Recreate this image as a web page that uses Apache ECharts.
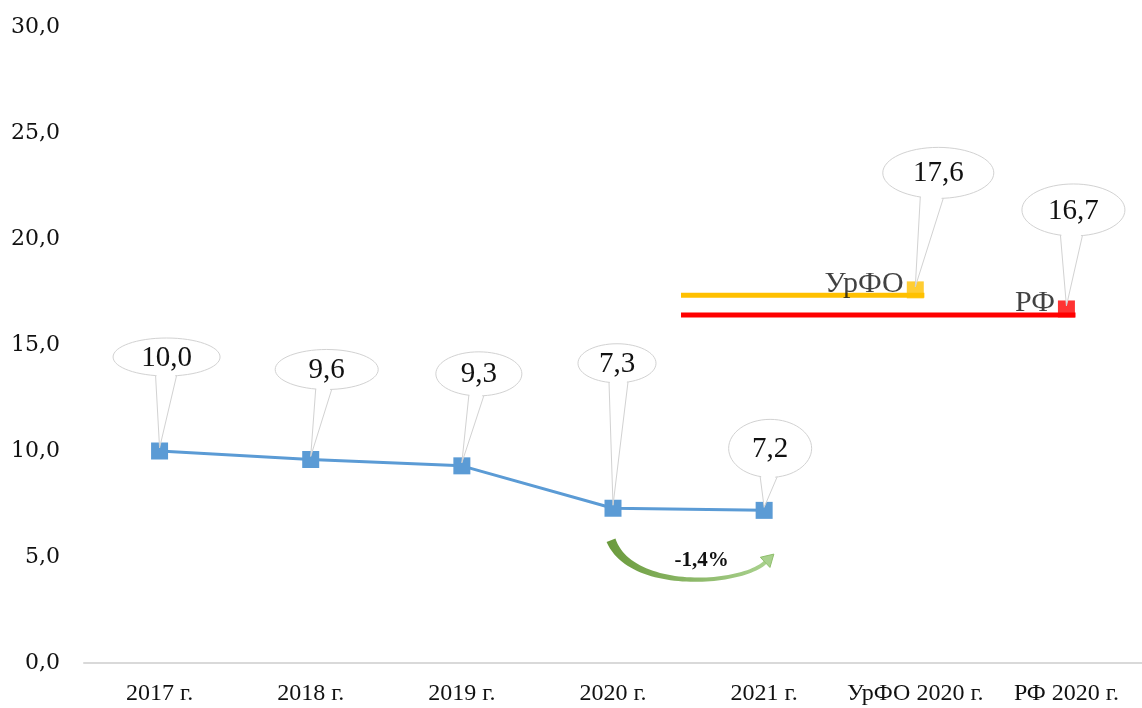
<!DOCTYPE html>
<html>
<head>
<meta charset="utf-8">
<script src="https://cdn.jsdelivr.net/npm/echarts@6/dist/echarts.min.js"></script>
<style>
  html, body { margin: 0; background: #fff; }
  #chart { width: 1142px; height: 708px; }
</style>
</head>
<body>
<div id="chart"></div>
<script>
// data
var categories = ['2017 г.', '2018 г.', '2019 г.', '2020 г.', '2021 г.', 'УрФО 2020 г.', 'РФ 2020 г.'];
var yearValues = [10.0, 9.6, 9.3, 7.3, 7.2];
var urfoValue = 17.6;
var rfValue = 16.7;
var urfoName = 'УрФО';
var rfName = 'РФ';
// reference bars: [x on 0..6 category scale, value]
var urfoBar = [[3.45, 17.35], [5.06, 17.35]];
var rfBar = [[3.45, 16.42], [6.06, 16.42]];
var changeLabel = '-1,4%';
var yMin = 0, yMax = 30, yStep = 5;

// callout look: [dx, dy, width, height, baseLeft, baseRight] in px from the point
var calloutLayout = [
  [7, -94, 107, 38, -11, 10],
  [16, -90, 103, 40, -11, 5],
  [17, -92, 86, 44, -10, 5],
  [4, -145, 78, 39, -8, 11],
  [6, -62, 83, 58, -10, 7],
  [23, -117, 111, 51, -18, 5],
  [7, -99, 103, 52, -13, 9]
];

var serif = '"Liberation Serif", "DejaVu Serif", serif';

function fmt(v) {
  return v.toFixed(1).replace('.', ',');
}

var calloutData = yearValues.map(function (v, i) { return [i, v]; });
calloutData.push([5, urfoValue]);
calloutData.push([6, rfValue]);

function renderCallout(params, api) {
  var i = params.dataIndex;
  var val = api.value(1);
  var p = api.coord([api.value(0), val]);
  var c = calloutLayout[i];
  var cx = p[0] + c[0], cy = p[1] + c[1], rx = c[2] / 2, ry = c[3] / 2;
  function yOn(dx) {
    return cy + ry * Math.sqrt(Math.max(0, 1 - dx * dx / (rx * rx)));
  }
  var b1 = [cx + c[4], yOn(c[4])];
  var b2 = [cx + c[5], yOn(c[5])];
  var tip = [p[0], p[1] - 3];
  return {
    type: 'group',
    children: [
      { type: 'ellipse', shape: { cx: cx, cy: cy, rx: rx, ry: ry },
        style: { fill: '#fff', stroke: '#d2d2d2', lineWidth: 1 } },
      { type: 'polygon', shape: { points: [[b1[0] + 0.8, b1[1] - 3], tip, [b2[0] - 0.8, b2[1] - 3]] },
        style: { fill: '#fff' } },
      { type: 'polyline', shape: { points: [b1, tip, b2] },
        style: { fill: null, stroke: '#d2d2d2', lineWidth: 1 } },
      { type: 'text', x: cx, y: cy + 1,
        style: { text: fmt(val), font: '29px ' + serif, fill: '#111', align: 'center', verticalAlign: 'middle' } }
    ]
  };
}

function renderArrow(params, api) {
  var a = api.coord([api.value(0), api.value(1)]);
  var b = api.coord([api.value(2), api.value(3)]);
  var P0 = [a[0] - 2, a[1] + 32];
  var C = [a[0] + 18, a[1] + 84];
  var C2 = [a[0] + 128, a[1] + 77];
  var S = [b[0] + 1, b[1] + 52];
  var left = [], right = [];
  var n = 50;
  var x, y, dx, dy;
  for (var k = 0; k <= n; k++) {
    var t = k / n, u = 1 - t;
    x = u * u * u * P0[0] + 3 * u * u * t * C[0] + 3 * u * t * t * C2[0] + t * t * t * S[0];
    y = u * u * u * P0[1] + 3 * u * u * t * C[1] + 3 * u * t * t * C2[1] + t * t * t * S[1];
    dx = 3 * u * u * (C[0] - P0[0]) + 6 * u * t * (C2[0] - C[0]) + 3 * t * t * (S[0] - C2[0]);
    dy = 3 * u * u * (C[1] - P0[1]) + 6 * u * t * (C2[1] - C[1]) + 3 * t * t * (S[1] - C2[1]);
    var len = Math.sqrt(dx * dx + dy * dy);
    var nx = -dy / len, ny = dx / len;
    var w = (2.5 + 7 * Math.pow(u, 2.5) + 1.5 * t) / 2;
    left.push([x + nx * w, y + ny * w]);
    right.push([x - nx * w, y - ny * w]);
  }
  var ex = S[0] - C2[0], ey = S[1] - C2[1];
  var el = Math.sqrt(ex * ex + ey * ey);
  ex /= el; ey /= el;
  var hx = -ey, hy = ex;
  var head = [
    [S[0] + hx * 7, S[1] + hy * 7],
    [S[0] + ex * 12, S[1] + ey * 12],
    [S[0] - hx * 7, S[1] - hy * 7]
  ];
  return {
    type: 'group',
    children: [
      { type: 'polygon', shape: { points: left.concat(right.reverse()) },
        style: { fill: new echarts.graphic.LinearGradient(0, 0, 1, 0, [
          { offset: 0, color: '#6a9a3c' }, { offset: 1, color: '#a9d18e' }
        ]) } },
      { type: 'polygon', shape: { points: head },
        style: { fill: '#a9d18e', stroke: '#8fbf6c', lineWidth: 1 } },
      { type: 'text', x: (a[0] + b[0]) / 2 + 13, y: a[1] + 52,
        style: { text: changeLabel, font: 'bold 21px ' + serif, fill: '#111', align: 'center', verticalAlign: 'middle' } }
    ]
  };
}

var chart = echarts.init(document.getElementById('chart'));
var option = {
  animation: false,
  backgroundColor: '#fff',
  grid: { left: 84, top: 27, width: 1062, height: 636 },
  xAxis: [
    {
      type: 'category',
      data: categories,
      boundaryGap: true,
      axisLine: { lineStyle: { color: '#d9d9d9', width: 2 } },
      axisTick: { show: false },
      axisLabel: { interval: 0, margin: 19, fontFamily: serif, fontSize: 24, color: '#111' }
    },
    { type: 'value', min: -0.5, max: 6.5, show: false }
  ],
  yAxis: {
    type: 'value',
    min: yMin,
    max: yMax,
    interval: yStep,
    axisLine: { show: false },
    axisTick: { show: false },
    splitLine: { show: false },
    axisLabel: { margin: 24, fontFamily: '"DejaVu Serif", serif', fontSize: 22, color: '#111', formatter: fmt }
  },
  series: [
    {
      type: 'line', xAxisIndex: 1, data: urfoBar, showSymbol: false, z: 2,
      lineStyle: { color: '#ffc000', width: 5 }
    },
    {
      type: 'line', xAxisIndex: 1, data: rfBar, showSymbol: false, z: 2,
      lineStyle: { color: '#ff0000', width: 5 }
    },
    {
      type: 'line', data: yearValues, z: 3,
      symbol: 'rect', symbolSize: 17,
      lineStyle: { color: '#5b9bd5', width: 3 },
      itemStyle: { color: '#5b9bd5' }
    },
    {
      type: 'scatter', data: [[categories[5], urfoValue]], z: 3,
      symbol: 'rect', symbolSize: 17,
      itemStyle: { color: '#ffc000' },
      label: { show: true, position: 'left', distance: 3, offset: [0, -6], formatter: urfoName,
        fontFamily: serif, fontSize: 30, color: '#111' }
    },
    {
      type: 'scatter', data: [[categories[6], rfValue]], z: 3,
      symbol: 'rect', symbolSize: 17,
      itemStyle: { color: '#ff0000' },
      label: { show: true, position: 'left', distance: 3, offset: [0, -6], formatter: rfName,
        fontFamily: serif, fontSize: 30, color: '#111' }
    },
    {
      type: 'custom', data: calloutData, z: 5,
      renderItem: renderCallout
    },
    {
      type: 'custom', data: [[3, yearValues[3], 4, yearValues[4]]], z: 4,
      renderItem: renderArrow
    }
  ]
};
chart.setOption(option);
</script>
</body>
</html>
